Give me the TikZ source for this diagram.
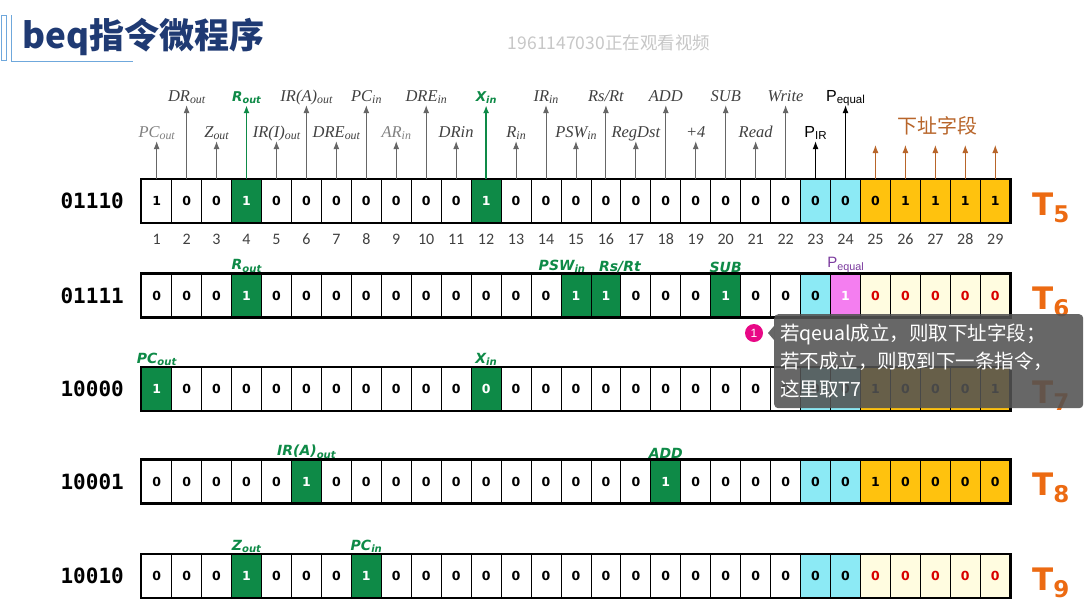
\documentclass[tikz,border=0pt]{standalone}
\usepackage{fontspec}
\usepackage{xcolor}
\usetikzlibrary{arrows.meta,positioning}
\setmainfont{Liberation Serif}
\newfontfamily\cjk{Noto Sans CJK SC}
\newfontfamily\dvs{DejaVu Sans}
\newfontfamily\dvm{DejaVu Sans Mono}
\newfontfamily\lsans{Liberation Sans}
\newfontfamily\carl{Carlito}

\definecolor{sigGreen}{HTML}{0E8A47}
\definecolor{cellCyan}{HTML}{8CEAF5}
\definecolor{cellOrange}{HTML}{FFC20E}
\definecolor{cellCream}{HTML}{FFFCE0}
\definecolor{cellPink}{HTML}{F47EF0}
\definecolor{tOrange}{HTML}{EC6A12}
\definecolor{addrBrown}{HTML}{B8652A}
\definecolor{titleBlue}{HTML}{1F3A73}
\definecolor{frameBlue}{HTML}{6FA8DC}
\definecolor{eqPurple}{HTML}{7B3A9E}

\newcommand{\sg}[2]{#1\raisebox{-0.3ex}{\scalebox{0.72}{#2}}}

\begin{document}
\begin{tikzpicture}[x=1pt,y=-1pt,
  bitcell/.style={draw=black,line width=0.8pt,minimum width=29.95pt,minimum height=43pt,inner sep=0pt,
    font=\dvs\bfseries\fontsize{12.5}{12.5}\selectfont},
  cw/.style={fill=white},
  cg/.style={fill=sigGreen,text=white},
  cc/.style={fill=cellCyan},
  co/.style={fill=cellOrange},
  cy/.style={fill=cellCream,text=red!85!black},
  cp/.style={fill=cellPink,text=white},
  sig/.style={anchor=base,inner sep=1pt,text depth=3pt,text=black!75,font=\itshape\fontsize{16.5}{16.5}\selectfont},
  sigfaint/.style={sig,text=black!50},
  siggreen/.style={sig,text=sigGreen,font=\dvs\bfseries\itshape\fontsize{13.5}{13.5}\selectfont},
  sigp/.style={sig,text=black,font=\lsans\fontsize{16}{16}\selectfont},
  sigarrow/.style={-{Latex[length=8pt,width=6pt]},line width=0.9pt,black!60},
  sigarrowg/.style={sigarrow,sigGreen,line width=1.6pt},
  sigarrowk/.style={sigarrow,black,line width=1.1pt},
  sigarrowb/.style={sigarrow,addrBrown,line width=1pt},
  cellflag/.style={inner sep=1pt,text=sigGreen,font=\dvs\bfseries\itshape\fontsize{14}{14}\selectfont},
  cellflagp/.style={cellflag,text=eqPurple,font=\lsans\fontsize{15}{15}\selectfont},
  rowname/.style={anchor=east,inner sep=0pt,font=\dvm\bfseries\fontsize{21}{21}\selectfont},
  tname/.style={anchor=base west,inner sep=0pt,text=tOrange,font=\dvs\bfseries\fontsize{31}{31}\selectfont},
  tipbox/.style={anchor=north west,fill=black!68,fill opacity=0.88,text opacity=1,text=white,
    rounded corners=4pt,minimum width=309pt,minimum height=94pt,text width=297pt,inner xsep=6pt,
    align=left,font=\cjk\fontsize{19.5}{28}\selectfont}]

\fill[white] (0,0) rectangle (1086,611);
\useasboundingbox (0,0) rectangle (1086,611);

% title
\draw[frameBlue,line width=0.8pt] (1,15) rectangle (6,60);
\draw[frameBlue,line width=0.8pt] (11,15) -- (11,61) -- (133,61);
\node[anchor=west,inner sep=0pt,text=titleBlue,font=\cjk\bfseries\fontsize{35}{35}\selectfont] (title) at (22,37) {beq指令微程序};
\node[text=black!22,font=\cjk\fontsize{17.5}{17.5}\selectfont] (wm) at (609,43) {1961147030正在观看视频};

% microinstruction rows
\foreach \y/\code/\tsub/\cells [count=\r] in {
  201/01110/5/{cw/1,cw/0,cw/0,cg/1,cw/0,cw/0,cw/0,cw/0,cw/0,cw/0,cw/0,cg/1,cw/0,cw/0,cw/0,cw/0,cw/0,cw/0,cw/0,cw/0,cw/0,cw/0,cc/0,cc/0,co/0,co/1,co/1,co/1,co/1},
  295.5/01111/6/{cw/0,cw/0,cw/0,cg/1,cw/0,cw/0,cw/0,cw/0,cw/0,cw/0,cw/0,cw/0,cw/0,cw/0,cg/1,cg/1,cw/0,cw/0,cw/0,cg/1,cw/0,cw/0,cc/0,cp/1,cy/0,cy/0,cy/0,cy/0,cy/0},
  389/10000/7/{cg/1,cw/0,cw/0,cw/0,cw/0,cw/0,cw/0,cw/0,cw/0,cw/0,cw/0,cg/0,cw/0,cw/0,cw/0,cw/0,cw/0,cw/0,cw/0,cw/0,cw/0,cw/0,cc/0,cc/0,co/1,co/0,co/0,co/0,co/1},
  481.5/10001/8/{cw/0,cw/0,cw/0,cw/0,cw/0,cg/1,cw/0,cw/0,cw/0,cw/0,cw/0,cw/0,cw/0,cw/0,cw/0,cw/0,cw/0,cg/1,cw/0,cw/0,cw/0,cw/0,cc/0,cc/0,co/1,co/0,co/0,co/0,co/0},
  576/10010/9/{cw/0,cw/0,cw/0,cg/1,cw/0,cw/0,cw/0,cg/1,cw/0,cw/0,cw/0,cw/0,cw/0,cw/0,cw/0,cw/0,cw/0,cw/0,cw/0,cw/0,cw/0,cw/0,cc/0,cc/0,cy/0,cy/0,cy/0,cy/0,cy/0}}
{
  \foreach \s/\v [count=\i] in \cells
    \node[bitcell,\s] (c\r-\i) at ({126.7+29.95*\i},\y) {\v};
  \draw[line width=2.4pt] (c\r-1.north west) rectangle (c\r-29.south east);
  \node[rowname] (r\r) at (124,\y) {\code};
  \node[tname] (t\r) at (1032,\y+14) {T\raisebox{-7pt}{\fontsize{23}{23}\selectfont\tsub}};
}

% bit numbers
\foreach \i in {1,...,29}
  \node[text=black!75,font=\carl\fontsize{16}{16}\selectfont] (n\i) at ({126.7+29.95*\i},239) {\i};

% control signals, lower level
\foreach \i/\t/\st/\ar in {1/{\sg{PC}{out}}/sigfaint/sigarrow, 3/{\sg{Z}{out}}/sig/sigarrow,
    5/{\sg{IR(I)}{out}}/sig/sigarrow, 7/{\sg{DRE}{out}}/sig/sigarrow, 9/{\sg{AR}{in}}/sigfaint/sigarrow,
    11/DRin/sig/sigarrow, 13/{\sg{R}{in}}/sig/sigarrow, 15/{\sg{PSW}{in}}/sig/sigarrow,
    17/RegDst/sig/sigarrow, 19/+4/sig/sigarrow, 21/Read/sig/sigarrow, 23/{\sg{P}{IR}}/sigp/sigarrowk}
{
  \node[\st] (s\i) at ({126.7+29.95*\i},137) {\t};
  \draw[\ar] (c1-\i.north) -- (s\i.south);
}

% control signals, upper level
\foreach \i/\t/\st/\ar in {2/{\sg{DR}{out}}/sig/sigarrow, 4/{\sg{R}{out}}/siggreen/sigarrowg,
    6/{\sg{IR(A)}{out}}/sig/sigarrow, 8/{\sg{PC}{in}}/sig/sigarrow, 10/{\sg{DRE}{in}}/sig/sigarrow,
    12/{\sg{X}{in}}/siggreen/sigarrowg, 14/{\sg{IR}{in}}/sig/sigarrow, 16/{Rs/Rt}/sig/sigarrow,
    18/ADD/sig/sigarrow, 20/SUB/sig/sigarrow, 22/Write/sig/sigarrow, 24/{\sg{P}{equal}}/sigp/sigarrowk}
{
  \node[\st] (s\i) at ({126.7+29.95*\i},101) {\t};
  \draw[\ar] (c1-\i.north) -- (s\i.south);
}

% next address field
\node[text=addrBrown,font=\cjk\fontsize{20}{20}\selectfont] (addr) at (937,126) {下址字段};
\foreach \i in {25,...,29}
{
  \coordinate (h\i) at ({126.7+29.95*\i},145);
  \draw[sigarrowb] (c1-\i.north) -- (h\i);
}

% active signals of the other rows
\foreach \r/\i/\t/\st/\dx in {2/4/{\sg{R}{out}}/cellflag/0, 2/15/{\sg{PSW}{in}}/cellflag/-14, 2/16/{Rs/Rt}/cellflag/14,
    2/20/SUB/cellflag/0, 2/24/{\sg{P}{equal}}/cellflagp/0, 3/1/{\sg{PC}{out}}/cellflag/0, 3/12/{\sg{X}{in}}/cellflag/0,
    4/6/{\sg{IR(A)}{out}}/cellflag/0, 4/18/ADD/cellflag/0, 5/4/{\sg{Z}{out}}/cellflag/0, 5/8/{\sg{PC}{in}}/cellflag/0}
  \node[\st,above=0pt of c\r-\i,xshift=\dx pt] (f\r-\i) {\t};

% comment tooltip
\node[tipbox] (tip) at (774,314) {若qeual成立，则取下址字段；\\若不成立，则取到下一条指令，\\这里取T7};
\fill[black!68,opacity=0.88] (tip.north west) ++(0,12) -- ++(-6,7) -- ++(6,7) -- cycle;
\node[circle,fill=magenta!90!purple,text=white,inner sep=0pt,minimum size=18pt,
  font=\lsans\fontsize{12}{12}\selectfont] (b1) at (754,333) {1};
\end{tikzpicture}
\end{document}
